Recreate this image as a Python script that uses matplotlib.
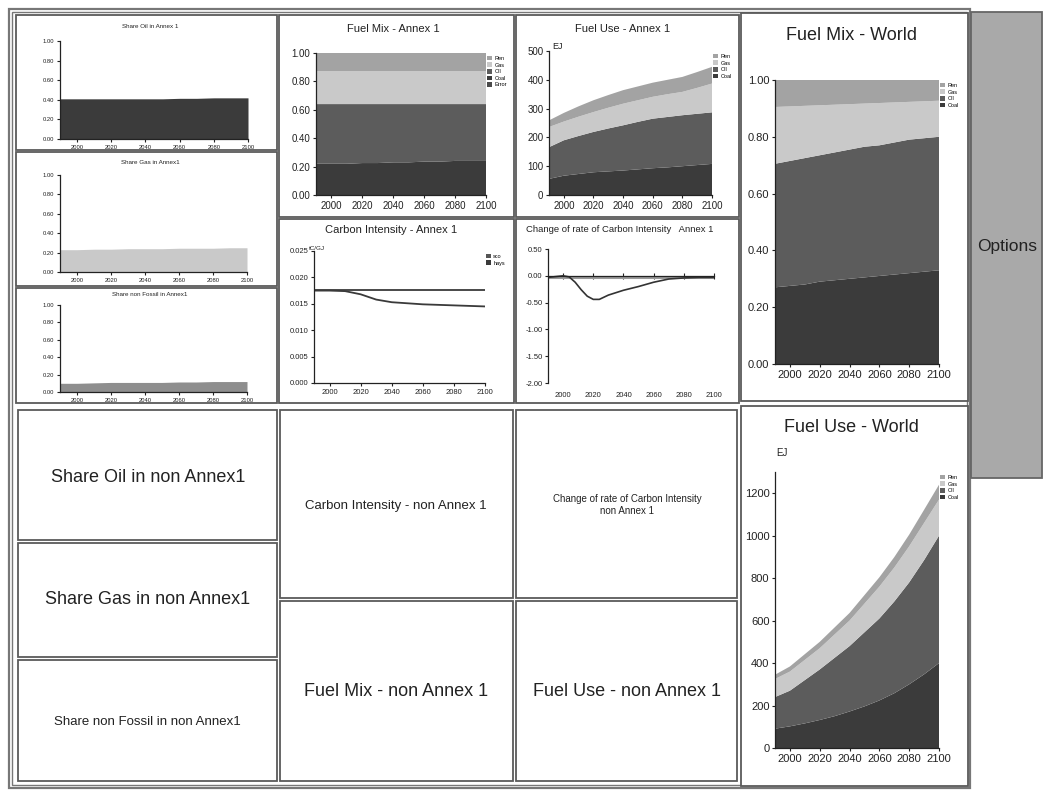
import matplotlib
matplotlib.use('Agg')
import matplotlib.pyplot as plt
from matplotlib.patches import Rectangle, Patch

plt.rcParams['font.family'] = ['Liberation Sans', 'DejaVu Sans']

W, H = 1044, 790

# ---- data ----
years = [1990, 2000, 2010, 2020, 2030, 2040, 2050, 2060, 2070, 2080, 2090, 2100]
tick_years = [2000, 2020, 2040, 2060, 2080, 2100]

share_oil_a1 = [0.41, 0.41, 0.41, 0.41, 0.41, 0.41, 0.41, 0.415, 0.415, 0.42, 0.42, 0.42]
share_gas_a1 = [0.23, 0.23, 0.235, 0.235, 0.24, 0.24, 0.24, 0.245, 0.245, 0.245, 0.25, 0.25]
share_nonfossil_a1 = [0.10, 0.10, 0.105, 0.11, 0.11, 0.11, 0.11, 0.115, 0.115, 0.12, 0.12, 0.12]

mix_a1_coal = [0.22, 0.22, 0.22, 0.225, 0.225, 0.23, 0.23, 0.235, 0.235, 0.24, 0.24, 0.24]
mix_a1_oil = [0.42, 0.42, 0.42, 0.415, 0.415, 0.41, 0.41, 0.405, 0.405, 0.40, 0.40, 0.40]
mix_a1_gas = [0.23, 0.23, 0.23, 0.23, 0.23, 0.23, 0.23, 0.23, 0.23, 0.23, 0.23, 0.23]
mix_a1_ren = [0.13, 0.13, 0.13, 0.13, 0.13, 0.13, 0.13, 0.13, 0.13, 0.13, 0.13, 0.13]
mix_a1_error = [0, 0, 0, 0, 0, 0, 0, 0, 0, 0, 0, 0]

use_a1_coal = [56, 67, 73, 79, 82, 85, 89, 93, 96, 100, 104, 108]
use_a1_oil = [110, 123, 132, 140, 149, 157, 165, 172, 175, 177, 178, 179]
use_a1_gas = [70, 65, 67, 69, 72, 75, 75, 76, 79, 81, 90, 100]
use_a1_ren = [23, 30, 36, 41, 44, 47, 48, 49, 50, 52, 55, 58]

ci_a1_sco = [0.0177, 0.0177, 0.0177, 0.0177, 0.0177, 0.0177, 0.0177, 0.0177, 0.0177, 0.0177, 0.0177, 0.0177]
ci_a1_hays = [0.0175, 0.0175, 0.0174, 0.0168, 0.0158, 0.0153, 0.0151, 0.0149, 0.0148, 0.0147, 0.0146, 0.0145]

rate_years = [1990, 2000, 2004, 2008, 2012, 2016, 2020, 2024, 2030, 2040, 2050, 2060, 2070, 2080, 2090, 2100]
rate_a1_hays = [-0.03, 0.0, -0.02, -0.12, -0.26, -0.38, -0.44, -0.44, -0.36, -0.27, -0.2, -0.12, -0.06, -0.04, -0.03, -0.03]
rate_a1_sco = [-0.03, -0.03, -0.03, -0.03, -0.03, -0.03, -0.03, -0.03, -0.03, -0.03, -0.03, -0.03, -0.03, -0.03, -0.03, -0.03]

mix_w_coal = [0.27, 0.275, 0.28, 0.29, 0.295, 0.30, 0.305, 0.31, 0.315, 0.32, 0.325, 0.33]
mix_w_oil = [0.435, 0.44, 0.445, 0.445, 0.45, 0.455, 0.46, 0.46, 0.465, 0.47, 0.47, 0.47]
mix_w_gas = [0.20, 0.192, 0.184, 0.176, 0.168, 0.16, 0.152, 0.149, 0.141, 0.133, 0.13, 0.127]
mix_w_ren = [0.095, 0.093, 0.091, 0.089, 0.087, 0.085, 0.083, 0.081, 0.079, 0.077, 0.075, 0.073]

use_w_coal = [91, 102, 116, 132, 150, 172, 196, 224, 258, 300, 347, 400]
use_w_oil = [149, 168, 204, 238, 275, 308, 349, 386, 432, 480, 538, 600]
use_w_gas = [85, 90, 95, 100, 110, 120, 135, 150, 160, 170, 175, 170]
use_w_ren = [20, 24, 27, 30, 33, 36, 40, 44, 49, 55, 62, 70]

C_COAL = '#3b3b3b'
C_OIL = '#5c5c5c'
C_GAS = '#c9c9c9'
C_REN = '#a3a3a3'
EDGE = '#5a5a5a'


def box(x0, y0, x1, y1):
    return [x0 / W, 1 - y1 / H, (x1 - x0) / W, (y1 - y0) / H]


fig = plt.figure(figsize=(W / 100, H / 100), dpi=100)
fig.patch.set_facecolor('white')


def panel(x0, y0, x1, y1, fc='white', lw=1.3, ec=EDGE):
    b = box(x0, y0, x1, y1)
    fig.add_artist(Rectangle((b[0], b[1]), b[2], b[3], transform=fig.transFigure,
                             fc=fc, ec=ec, lw=lw, zorder=-5))


def label(x, y, s, size, **kw):
    fig.text(x / W, 1 - y / H, s, fontsize=size, ha='center', va='center', color='#222222', **kw)


def setup(ax, fs, ylim, yticks, fmt):
    ax.set_facecolor('none')
    ax.spines['top'].set_visible(False)
    ax.spines['right'].set_visible(False)
    for s in ['left', 'bottom']:
        ax.spines[s].set_color('#222222')
        ax.spines[s].set_linewidth(0.9)
    ax.set_xlim(1990, 2100)
    ax.set_ylim(*ylim)
    ax.set_xticks(tick_years)
    ax.set_yticks(yticks)
    ax.set_yticklabels([fmt % v for v in yticks])
    ax.tick_params(labelsize=fs, length=2.5, width=0.8, colors='#222222', pad=1.5)


def fuel_legend(ax, names, colors, fs):
    handles = [Patch(fc=c, ec='none', label=n) for n, c in zip(names, colors)]
    ax.legend(handles=handles, loc='upper left', bbox_to_anchor=(0.99, 1.0), frameon=False,
              fontsize=fs, handlelength=0.9, handleheight=0.9, handletextpad=0.4,
              labelspacing=0.25, borderaxespad=0.1)


# ---- frames ----
panel(9, 9, 970, 788, lw=1.6, ec='#777777')
panel(12, 12, 967, 785, lw=1.0, ec='#777777')
panel(16, 15, 277, 150)
panel(16, 152, 277, 286)
panel(16, 288, 277, 403)
panel(279, 15, 514, 217)
panel(279, 219, 514, 403)
panel(516, 15, 739, 217)
panel(516, 219, 739, 403)
panel(741, 13, 968, 401)
panel(741, 406, 968, 786)
panel(18, 410, 277, 540)
panel(18, 543, 277, 657)
panel(18, 660, 277, 781)
panel(280, 410, 513, 598)
panel(280, 601, 513, 781)
panel(516, 410, 737, 598)
panel(516, 601, 737, 781)
panel(971, 12, 1042, 478, fc='#a9a9a9', lw=1.3, ec='#666666')

# ---- share panels Annex 1 ----
share_specs = [
    ((60, 41, 248, 139), share_oil_a1, C_COAL, 'Share Oil in Annex 1', 27),
    ((60, 175, 247, 272), share_gas_a1, C_GAS, 'Share Gas in Annex1', 163),
    ((60, 305, 247, 392), share_nonfossil_a1, '#8e8e8e', 'Share non Fossil in Annex1', 294),
]
for rect, vals, col, title, ty in share_specs:
    ax = fig.add_axes(box(*rect))
    setup(ax, 4.2, (0, 1.0), [0, 0.2, 0.4, 0.6, 0.8, 1.0], '%.2f')
    ax.fill_between(years, 0, vals, color=col, lw=0)
    label(150, ty, title, 4.5)

# ---- Fuel Mix Annex 1 ----
ax = fig.add_axes(box(316, 53, 486, 195))
setup(ax, 7, (0, 1.0), [0, 0.2, 0.4, 0.6, 0.8, 1.0], '%.2f')
ax.stackplot(years, mix_a1_error, mix_a1_coal, mix_a1_oil, mix_a1_gas, mix_a1_ren,
             colors=['#4a4a4a', C_COAL, C_OIL, C_GAS, C_REN], lw=0)
fuel_legend(ax, ['Ren', 'Gas', 'Oil', 'Coal', 'Error'], [C_REN, C_GAS, C_OIL, C_COAL, '#4a4a4a'], 4)
label(393, 29, 'Fuel Mix - Annex 1', 8)

# ---- Fuel Use Annex 1 ----
ax = fig.add_axes(box(549, 51, 712, 195))
setup(ax, 7, (0, 500), [0, 100, 200, 300, 400, 500], '%d')
ax.stackplot(years, use_a1_coal, use_a1_oil, use_a1_gas, use_a1_ren,
             colors=[C_COAL, C_OIL, C_GAS, C_REN], lw=0)
fuel_legend(ax, ['Ren', 'Gas', 'Oil', 'Coal'], [C_REN, C_GAS, C_OIL, C_COAL], 4)
ax.text(0.02, 1.0, 'EJ', transform=ax.transAxes, fontsize=6.5, va='bottom', ha='left', color='#222222')
label(623, 29, 'Fuel Use - Annex 1', 8)

# ---- Carbon Intensity Annex 1 ----
ax = fig.add_axes(box(314, 251, 485, 383))
setup(ax, 5.5, (0, 0.025), [0, 0.005, 0.01, 0.015, 0.02, 0.025], '%.3f')
ax.plot(years, ci_a1_sco, color='#3a3a3a', lw=1.3, label='sco')
ax.plot(years, ci_a1_hays, color='#3a3a3a', lw=1.3, label='hays')
handles = [Patch(fc='#555555', label='sco'), Patch(fc='#3a3a3a', label='hays')]
ax.legend(handles=handles, loc='upper left', bbox_to_anchor=(0.99, 1.0), frameon=False,
          fontsize=4, handlelength=0.9, handleheight=0.9, handletextpad=0.4,
          labelspacing=0.25, borderaxespad=0.1)
ax.text(-0.03, 1.0, 'tC/GJ', transform=ax.transAxes, fontsize=4.5, va='bottom', ha='left', color='#222222')
label(391, 230, 'Carbon Intensity - Annex 1', 8)

# ---- Change of rate Annex 1 ----
ax = fig.add_axes(box(548, 249, 714, 383))
setup(ax, 5.5, (-2.0, 0.5), [-2.0, -1.5, -1.0, -0.5, 0.0, 0.5], '%.2f')
ax.spines['bottom'].set_position(('data', 0))
ax.tick_params(axis='x', direction='inout', length=4, labelbottom=False)
ax.plot(rate_years, rate_a1_sco, color='#9a9a9a', lw=2.2)
ax.plot(rate_years, rate_a1_hays, color='#333333', lw=1.2)
for yr in tick_years:
    ax.text(yr, -0.065, str(yr), transform=ax.get_xaxis_transform(), fontsize=5.5,
            ha='center', va='top', color='#222222')
label(620, 229, 'Change of rate of Carbon Intensity   Annex 1', 6.8)

# ---- Fuel Mix World ----
ax = fig.add_axes(box(775, 80, 939, 364))
setup(ax, 8, (0, 1.0), [0, 0.2, 0.4, 0.6, 0.8, 1.0], '%.2f')
ax.stackplot(years, mix_w_coal, mix_w_oil, mix_w_gas, mix_w_ren,
             colors=[C_COAL, C_OIL, C_GAS, C_REN], lw=0)
fuel_legend(ax, ['Ren', 'Gas', 'Oil', 'Coal'], [C_REN, C_GAS, C_OIL, C_COAL], 4)
label(852, 36, 'Fuel Mix - World', 13)

# ---- Fuel Use World ----
ax = fig.add_axes(box(775, 472, 939, 748))
setup(ax, 8, (0, 1300), [0, 200, 400, 600, 800, 1000, 1200], '%d')
ax.stackplot(years, use_w_coal, use_w_oil, use_w_gas, use_w_ren,
             colors=[C_COAL, C_OIL, C_GAS, C_REN], lw=0)
fuel_legend(ax, ['Ren', 'Gas', 'Oil', 'Coal'], [C_REN, C_GAS, C_OIL, C_COAL], 4)
ax.text(0.01, 1.05, 'EJ', transform=ax.transAxes, fontsize=7, va='bottom', ha='left', color='#222222')
label(851, 428, 'Fuel Use - World', 13)

# ---- empty non Annex 1 panels ----
label(148, 477, 'Share Oil in non Annex1', 13)
label(148, 600, 'Share Gas in non Annex1', 13)
label(147, 722, 'Share non Fossil in non Annex1', 9.5)
label(396, 506, 'Carbon Intensity - non Annex 1', 9.5)
label(396, 692, 'Fuel Mix - non Annex 1', 13)
label(627, 505, 'Change of rate of Carbon Intensity\nnon Annex 1', 7, linespacing=1.3)
label(627, 692, 'Fuel Use - non Annex 1', 13)
label(1007, 247, 'Options', 12.5)

fig.savefig('out.png', dpi=100)
